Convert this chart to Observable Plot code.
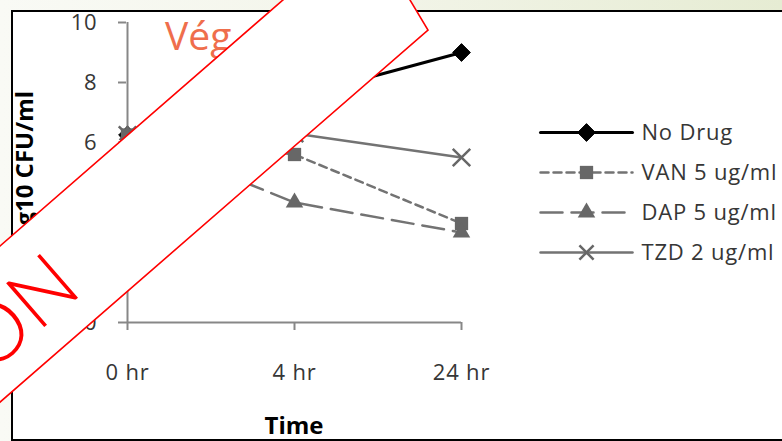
<!DOCTYPE html>
<html><head><meta charset="utf-8">
<script src="https://cdn.jsdelivr.net/npm/d3@7"></script>
<script src="https://cdn.jsdelivr.net/npm/@observablehq/plot@0.6"></script>
<style>
html,body{margin:0;padding:0;}
#page{position:relative;width:782px;height:441px;overflow:hidden;background:linear-gradient(to right,#f9faf5 0%,#f3f5ea 45%,#e6ecd3 100%);}
#frame{position:absolute;left:11px;top:10px;width:900px;height:427px;border:2px solid #000;background:#fff;}
#chart,#legend,#overlay{position:absolute;left:0;top:0;}
#chart [aria-label$="tick label"] text, #legend text{letter-spacing:0.8px;}
</style></head>
<body><div id="page"><div id="frame"></div><div id="chart"></div><div id="legend"></div>
<svg id="overlay" width="782" height="441" xmlns="http://www.w3.org/2000/svg">
  <text x="165" y="50" font-family="'Open Sans', sans-serif" font-weight="400" font-size="39" fill="#EF6E4C">Vég</text>
  <polygon points="-200,420 366.4,-72.6 428,30 -200,576" fill="#fff" stroke="#ff0000" stroke-width="1.6"/>
  <text transform="translate(80,296) rotate(-41)" x="6" y="0" text-anchor="end" font-family="Lato, sans-serif" font-weight="300" font-size="82" fill="#ff0000">ON</text>
</svg></div>
<script>
const times = ["0 hr", "4 hr", "24 hr"];
const seriesNames = ["No Drug", "VAN 5 ug/ml", "DAP 5 ug/ml", "TZD 2 ug/ml"];
const noDrug = [6.25, 7.5, 9.0];
const van5 = [6.25, 5.6, 3.3];
const dap5 = [6.25, 4.0, 3.0];
const tzd2 = [6.25, 6.3, 5.5];
const yTicks = [0, 2, 4, 6, 8, 10];
const xTitle = "Time";
const yTitle = "Log10 CFU/ml";

const values = [noDrug, van5, dap5, tzd2];
const styles = [
  {stroke: "#000", width: 3, dash: null, symbol: "diamond2", r: 8, fill: "#000", dotStroke: "#000", dotWidth: 1},
  {stroke: "#737373", width: 2.5, dash: "8,5", symbol: "square", r: 7.5, fill: "#676767", dotStroke: "none", dotWidth: 0},
  {stroke: "#737373", width: 2.5, dash: "22,9", symbol: "triangle", r: 6.5, fill: "#676767", dotStroke: "none", dotWidth: 0},
  {stroke: "#737373", width: 2.5, dash: null, symbol: "times", r: 8, fill: "none", dotStroke: "#676767", dotWidth: 2.5}
];
const rows = seriesNames.flatMap((s, i) => times.map((t, j) => ({series: s, time: t, value: values[i][j]})));

const axisGray = "#878787";
const labelColor = "#363636";

const marks = [
  Plot.ruleY([0], {stroke: axisGray, strokeWidth: 2}),
  Plot.ruleX([times[0]], {stroke: axisGray, strokeWidth: 2}),
  Plot.axisY({ticks: yTicks, tickSize: 8, tickPadding: 21, stroke: axisGray, strokeWidth: 2, fill: labelColor, label: null}),
  Plot.axisX({tickSize: 8, tickPadding: 34, stroke: axisGray, strokeWidth: 2, fill: labelColor, label: null}),
  Plot.text([yTitle], {frameAnchor: "left", text: d => d, rotate: -90, textAnchor: "middle", dx: -101, fontWeight: "bold", fontSize: 24, fill: "#000"}),
  Plot.text([xTitle], {frameAnchor: "bottom", text: d => d, textAnchor: "middle", dy: 111, fontWeight: "bold", fontSize: 24, fill: "#000"})
];
seriesNames.forEach((s, i) => {
  const st = styles[i];
  const data = rows.filter(d => d.series === s);
  marks.push(Plot.line(data, {x: "time", y: "value", stroke: st.stroke, strokeWidth: st.width, strokeDasharray: st.dash}));
  marks.push(Plot.dot(data, {x: "time", y: "value", symbol: st.symbol, r: st.r, fill: st.fill, stroke: st.dotStroke, strokeWidth: st.dotWidth}));
});

const chart = Plot.plot({
  width: 782, height: 441,
  marginLeft: 126, marginRight: 321, marginTop: 22, marginBottom: 119,
  style: {fontFamily: "'Open Sans', sans-serif", fontSize: "22px", background: "transparent", overflow: "visible"},
  x: {type: "point", domain: times, range: [126, 461], padding: 0},
  y: {domain: [0, 10], range: [322, 22]},
  marks
});
document.getElementById("chart").appendChild(chart);

// Legend
const legendMarks = [];
seriesNames.forEach((s, i) => {
  const st = styles[i];
  legendMarks.push(Plot.line([0, 1].map(x => ({x, series: s})), {x: "x", y: "series", stroke: st.stroke, strokeWidth: st.width, strokeDasharray: st.dash}));
  legendMarks.push(Plot.dot([{x: 0.5, series: s}], {x: "x", y: "series", symbol: st.symbol, r: i === 3 ? 6.5 : st.r, fill: st.fill, stroke: st.dotStroke, strokeWidth: st.dotWidth}));
});
legendMarks.push(Plot.text(seriesNames, {x: () => 1, y: d => d, text: d => d, dx: 9, textAnchor: "start", fill: labelColor}));
const legend = Plot.plot({
  width: 782, height: 441, margin: 0,
  style: {fontFamily: "'Open Sans', sans-serif", fontSize: "22px", background: "transparent", overflow: "visible"},
  x: {domain: [0, 1], range: [540, 632], axis: null},
  y: {type: "point", domain: seriesNames, range: [131.5, 253], padding: 0, axis: null},
  marks: legendMarks
});
document.getElementById("legend").appendChild(legend);
</script>
</body></html>
